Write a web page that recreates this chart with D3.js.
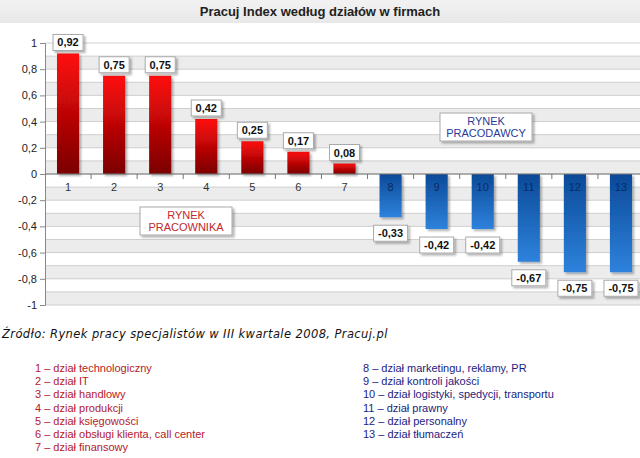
<!DOCTYPE html>
<html><head><meta charset="utf-8">
<script src="https://cdn.jsdelivr.net/npm/d3@7"></script>
<style>body{margin:0;background:#fff}svg{display:block}</style>
</head><body>
<script>
const categories = ["1","2","3","4","5","6","7","8","9","10","11","12","13"];
const values = [0.92,0.75,0.75,0.42,0.25,0.17,0.08,-0.33,-0.42,-0.42,-0.67,-0.75,-0.75];
const yTicks = [-1,-0.8,-0.6,-0.4,-0.2,0,0.2,0.4,0.6,0.8,1];
const legendLeft = ["1 – dział technologiczny","2 – dział IT","3 – dział handlowy","4 – dział produkcji","5 – dział księgowości","6 – dział obsługi klienta, call center","7 – dział finansowy"];
const legendRight = ["8 – dział marketingu, reklamy, PR","9 – dział kontroli jakości","10 – dział logistyki, spedycji, transportu","11 – dział prawny","12 – dział personalny","13 – dział tłumaczeń"];
const title = "Pracuj Index według działów w firmach";
const source = "Źródło: Rynek pracy specjalistów w III kwartale 2008, Pracuj.pl";

const W=640,H=458;
const svg=d3.select("body").append("svg").attr("width",W).attr("height",H);
const defs=svg.append("defs");
const gr=defs.append("linearGradient").attr("id","gRed").attr("x1",0).attr("y1",0).attr("x2",0).attr("y2",1);
gr.append("stop").attr("offset","0%").attr("stop-color","#ff0a0a");
gr.append("stop").attr("offset","100%").attr("stop-color","#7a0202");
const gb=defs.append("linearGradient").attr("id","gBlue").attr("x1",0).attr("y1",0).attr("x2",0).attr("y2",1);
gb.append("stop").attr("offset","0%").attr("stop-color","#0b4a98");
gb.append("stop").attr("offset","100%").attr("stop-color","#2e82dc");
const gh=defs.append("linearGradient").attr("id","gHead").attr("x1",0).attr("y1",0).attr("x2",0).attr("y2",1);
gh.append("stop").attr("offset","0%").attr("stop-color","#f2f2f2");
gh.append("stop").attr("offset","100%").attr("stop-color","#e8e8e8");
const sh=defs.append("filter").attr("id","shadow").attr("x","-20%").attr("y","-20%").attr("width","150%").attr("height","150%");
sh.append("feDropShadow").attr("dx",2).attr("dy",2).attr("stdDeviation",1.2).attr("flood-color","#000").attr("flood-opacity",0.3);

const fmt=v=>String(v).replace(".",",").replace("\u2212","-");

// header
svg.append("rect").attr("x",0).attr("y",0).attr("width",W).attr("height",23).attr("fill","url(#gHead)");
svg.append("text").attr("x",320).attr("y",16).attr("text-anchor","middle")
  .attr("font-family","Liberation Sans, Arial, sans-serif").attr("font-weight","bold").attr("font-size",13).attr("fill","#222").text(title);

const left=45,right=644;
const x=d3.scaleBand().domain(categories).range([left,right]).paddingInner(0.52).paddingOuter(0.26);
const y=d3.scaleLinear().domain([-1,1]).range([305,43]);

// background bands
const bands=d3.range(-1,1,0.2).map(v=>+v.toFixed(1));
svg.append("g").selectAll("rect").data(bands).join("rect")
  .attr("x",left).attr("width",W-left).attr("y",d=>y(d+0.1)).attr("height",d=>y(d)-y(d+0.1)).attr("fill","#ececec");
const minor=d3.range(-10,11).map(i=>i/10);
svg.append("g").selectAll("line").data(minor).join("line")
  .attr("x1",left).attr("x2",W).attr("y1",d=>y(d)).attr("y2",d=>y(d)).attr("stroke","#cfcfcf").attr("stroke-width",1);

// y axis
const ya=svg.append("g").attr("transform",`translate(${left},0)`)
  .call(d3.axisLeft(y).tickValues(yTicks).tickSize(5).tickPadding(3).tickFormat(d=>fmt(+d.toFixed(1))));
ya.select(".domain").attr("stroke","#888");
ya.selectAll(".tick line").attr("stroke","#888");
ya.selectAll("text").attr("font-family","Liberation Sans, Arial, sans-serif").attr("font-size",11).attr("fill","#222");

// bars
const data=categories.map((c,i)=>({c,v:values[i]}));
svg.append("g").selectAll("rect").data(data).join("rect")
  .attr("x",d=>x(d.c)).attr("width",x.bandwidth())
  .attr("y",d=>y(Math.max(0,d.v))).attr("height",d=>Math.abs(y(d.v)-y(0)))
  .attr("fill",d=>d.v>=0?"url(#gRed)":"url(#gBlue)").attr("filter","url(#shadow)");

// zero axis
svg.append("line").attr("x1",left).attr("x2",W).attr("y1",y(0)).attr("y2",y(0)).attr("stroke","#777");
const step=x.step();
svg.append("g").selectAll("line").data(categories.slice(1)).join("line")
  .attr("x1",d=>x(d)-(x.paddingInner()*step)/2).attr("x2",d=>x(d)-(x.paddingInner()*step)/2)
  .attr("y1",y(0)).attr("y2",y(0)+5).attr("stroke","#777");

// category labels
svg.append("g").selectAll("text").data(data).join("text")
  .attr("x",d=>x(d.c)+x.bandwidth()/2).attr("y",y(0)+17).attr("text-anchor","middle")
  .attr("font-family","Liberation Sans, Arial, sans-serif").attr("font-size",11)
  .attr("fill",d=>d.v>=0?"#333":"#0b2a60").text(d=>d.c);

// value label boxes
const lg=svg.append("g").selectAll("g").data(data).join("g");
lg.each(function(d){
  const g=d3.select(this);
  const cx=x(d.c)+x.bandwidth()/2;
  const t=d.v.toFixed(2).replace(".",",");
  const w=d.v>=0?30:34, h=16;
  const yb=d.v>=0? y(d.v)-3-h : y(d.v)+8;
  g.append("rect").attr("x",cx-w/2).attr("y",yb).attr("width",w).attr("height",h)
    .attr("fill","#fff").attr("stroke","#aaa").attr("stroke-width",1).attr("filter","url(#shadow)");
  g.append("text").attr("x",cx).attr("y",yb+12).attr("text-anchor","middle")
    .attr("font-family","Liberation Sans, Arial, sans-serif").attr("font-weight","bold").attr("font-size",11).attr("fill","#111").text(t);
});

// annotation boxes
function note(cx,cy,lines,color){
  const w=92,h=28;
  svg.append("rect").attr("x",cx-w/2).attr("y",cy-h/2).attr("width",w).attr("height",h)
    .attr("fill","#fff").attr("stroke","#aaa").attr("filter","url(#shadow)");
  lines.forEach((l,i)=>svg.append("text").attr("x",cx).attr("y",cy-2+i*12).attr("text-anchor","middle")
    .attr("font-family","Liberation Sans, Arial, sans-serif").attr("font-size",11).attr("fill",color).text(l));
}
note(186,221,["RYNEK","PRACOWNIKA"],"#c0282c");
note(486,127,["RYNEK","PRACODAWCY"],"#2a3a9a");

// source
svg.append("text").attr("x",2).attr("y",338).attr("font-family","DejaVu Sans, Verdana, sans-serif")
  .attr("font-style","italic").attr("font-size",11.5).attr("letter-spacing",0.4).attr("fill","#111").text(source);

// legends
svg.append("g").selectAll("text").data(legendLeft).join("text")
  .attr("x",35).attr("y",(d,i)=>372+i*13.2).attr("font-family","Liberation Sans, Arial, sans-serif").attr("font-size",11)
  .attr("fill","#b4202a").text(d=>d);
svg.append("g").selectAll("text").data(legendRight).join("text")
  .attr("x",363).attr("y",(d,i)=>372+i*13.2).attr("font-family","Liberation Sans, Arial, sans-serif").attr("font-size",11)
  .attr("fill","#1c1c80").text(d=>d);
</script>
</body></html>
